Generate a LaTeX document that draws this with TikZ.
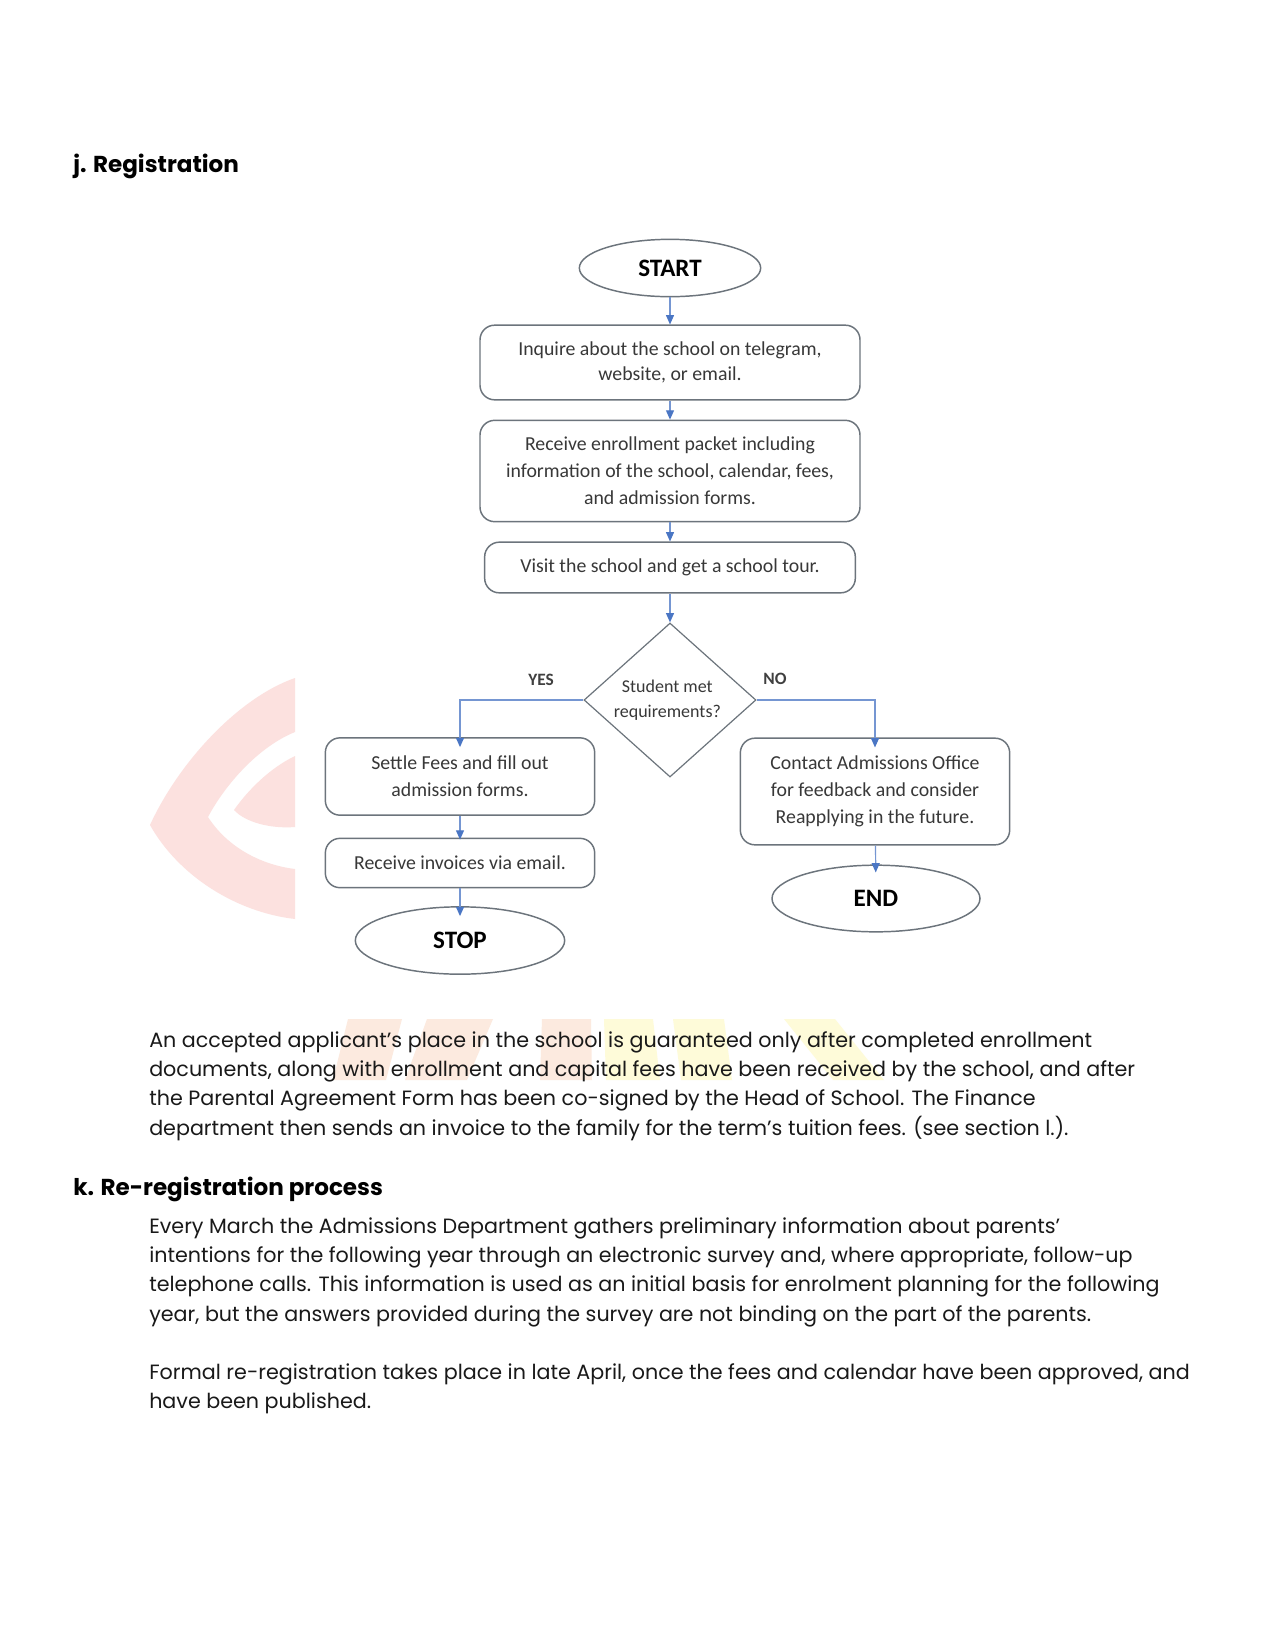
\documentclass[tikz,border=0pt]{standalone}
\usepackage{fontspec}
\setmainfont{Poppins}
\newfontfamily\chartfont{Carlito}
\usetikzlibrary{shapes.geometric,arrows.meta,calc}
\definecolor{boxline}{HTML}{6C747C}
\definecolor{flowblue}{HTML}{4A76C4}
\definecolor{flowline}{HTML}{7596D2}
\definecolor{wmred}{HTML}{FCE1DF}
\definecolor{wmorange}{HTML}{FCEADF}
\definecolor{wmyellow}{HTML}{FEFBD9}
\tikzset{
  x=0.75pt,y=-0.75pt,
  chart/.style={font=\chartfont\fontsize{14.85}{20.2}\selectfont,text=black!78,align=center,inner sep=0pt},
  tight/.style={font=\chartfont\fontsize{14.85}{18.2}\selectfont},
  rbox/.style={chart,draw=boxline,line width=1.1pt,rounded corners=11pt,fill=white},
  oval/.style={chart,ellipse,draw=boxline,line width=1.1pt,fill=white,font=\chartfont\bfseries\fontsize{18.8}{20}\selectfont,text=black},
  decision/.style={chart,diamond,draw=boxline,line width=0.9pt,font=\chartfont\fontsize{13.5}{18.2}\selectfont},
  flow/.style={draw=flowline,line width=0.9pt,-{Triangle[width=6pt,length=7pt,color=flowblue,fill=flowblue]}},
  poke/.style={shorten >=-#1},
  tag/.style={font=\chartfont\bfseries\fontsize{13}{14}\selectfont,text=black!75,inner sep=0pt},
  heading/.style={anchor=north west,inner sep=0pt,font=\bfseries\fontsize{17.3}{24}\selectfont,text=black},
  para/.style={anchor=north west,inner sep=0pt,align=left,font=\fontsize{15.5}{22.05}\selectfont,text=black!90},
}
\begin{document}
\begin{tikzpicture}
\useasboundingbox (0,0) rectangle (1275,1650);
\fill[white] (0,0) rectangle (1275,1650);
% watermark
\fill[wmred] (295,678) .. controls (240,697) and (180,760) .. (150,825)
  .. controls (178,875) and (235,912) .. (295,919)
  -- (295,869) .. controls (262,865) and (228,848) .. (208,817)
  .. controls (225,785) and (258,747) .. (295,732) -- cycle;
\fill[wmred] (295,756) .. controls (270,768) and (248,790) .. (234,810)
  .. controls (245,822) and (270,829) .. (295,827) -- cycle;
\fill[wmorange] (348,1019) -- (402,1019) -- (386,1080) -- (333,1080) -- cycle;
\fill[wmorange] (427,1019) -- (493,1019) -- (467,1080) -- (405,1080) -- cycle;
\fill[wmorange] (542,1019) -- (591,1019) -- (592,1080) -- (540,1080) -- cycle;
\fill[wmyellow] (604,1019) -- (653,1019) -- (660,1080) -- (606,1080) -- cycle;
\fill[wmyellow] (673,1019) -- (724,1019) -- (732,1080) -- (681,1080) -- cycle;
\fill[wmyellow] (784,1019) -- (835,1019) -- (884,1080) -- (833,1080) -- cycle;
% text
\node[heading] (hj) at (73,154) {j. Registration};
\node[para] (p1) at (149,1031) {An accepted applicant's place in the school is guaranteed only after completed enrollment\\
documents, along with enrollment and capital fees have been received by the school, and after\\
the Parental Agreement Form has been co-signed by the Head of School. The Finance\\
department then sends an invoice to the family for the term’s tuition fees. (see section l.).};
\node[heading] (hk) at (73,1177) {k. Re-registration process};
\node[para] (p2) at (149,1217) {Every March the Admissions Department gathers preliminary information about parents’\\
intentions for the following year through an electronic survey and, where appropriate, follow-up\\
telephone calls. This information is used as an initial basis for enrolment planning for the following\\
year, but the answers provided during the survey are not binding on the part of the parents.};
\node[para] (p3) at (149,1363) {Formal re-registration takes place in late April, once the fees and calendar have been approved, and\\
have been published.};
% flowchart
\node[oval,minimum width=136pt,minimum height=43pt] (start) at (670,268) {\raisebox{-1.5pt}{START}};
\node[rbox,tight,minimum width=285pt,minimum height=56pt] (inq) at (670,362.5) {Inquire about the school on telegram,\\website, or email.};
\node[rbox,minimum width=285pt,minimum height=76pt] (pack) at (670,471) {Receive enrollment packet including\\information of the school, calendar, fees,\\and admission forms.};
\node[rbox,minimum width=278pt,minimum height=38pt] (tour) at (670,567.5) {Visit the school and get a school tour.};
\node[decision,minimum width=129pt,minimum height=115.5pt] (met) at (670,700) {\raisebox{2pt}{\hspace*{-4pt}Student met}\\[0.5pt]\raisebox{2pt}{\hspace*{-4pt}requirements?}};
\node[rbox,minimum width=202pt,minimum height=58pt] (settle) at (460,776.5) {Settle Fees and fill out\\admission forms.};
\node[rbox,minimum width=202pt,minimum height=37pt] (inv) at (460,863) {Receive invoices via email.};
\node[oval,minimum width=157pt,minimum height=50.5pt] (stop) at (460,940.5) {STOP};
\node[rbox,minimum width=202pt,minimum height=80pt] (contact) at (875,791.5) {Contact Admissions Office\\for feedback and consider\\Reapplying in the future.};
\node[oval,minimum width=156pt,minimum height=50pt] (end) at (876,898.5) {END};
\draw[flow] (start) -- (inq);
\draw[flow] (inq) -- (pack);
\draw[flow] (pack) -- (tour);
\draw[flow] (tour) -- (met);
\draw[flow,poke=7.5pt] (met.west) -| (settle.north);
\draw[flow,poke=7.5pt] (met.east) -| (contact.north);
\draw[flow,poke=1.5pt] (settle) -- (inv);
\draw[flow,poke=7.5pt] (inv) -- (stop);
\draw[flow,poke=6pt] (contact) -- (end);
\node[tag] (yes) at (541,680) {YES};
\node[tag] (no) at (775,679) {NO};
\end{tikzpicture}
\end{document}
